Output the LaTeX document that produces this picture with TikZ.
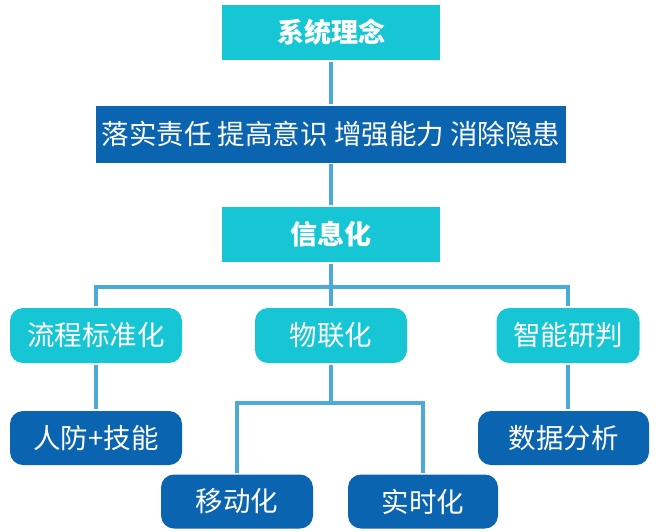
\documentclass[tikz,border=0pt]{standalone}
\usepackage{fontspec}
\setmainfont{Noto Sans CJK SC}
\usepackage{tikz}
\usetikzlibrary{positioning}
\definecolor{cyanbox}{RGB}{22,198,212}
\definecolor{bluebox}{RGB}{10,100,176}
\definecolor{linkline}{RGB}{75,170,216}

\begin{document}
\begin{tikzpicture}[x=1pt, y=-1pt, line width=3.5pt, draw=linkline,
    head/.style={fill=cyanbox, text=white, font=\fontsize{27}{27}\selectfont\bfseries, minimum width=218pt, minimum height=55pt, inner sep=0pt},
    banner/.style={fill=bluebox, text=white, font=\fontsize{27.5}{27.5}\selectfont, minimum width=470pt, minimum height=57pt, inner sep=0pt},
    branch/.style={fill=cyanbox, text=white, font=\fontsize{27.5}{27.5}\selectfont, rounded corners=13pt, minimum height=55pt, inner sep=0pt},
    leaf/.style={fill=bluebox, text=white, font=\fontsize{27.5}{27.5}\selectfont, rounded corners=13pt, minimum height=54pt, inner sep=0pt}]
    	\useasboundingbox (0,0) rectangle (658,531);
    	\node[head] (idea) at (331,32.5) {系统理念};
    	\node[banner] (duty) at (331,134) {落实责任 提高意识 增强能力 消除隐患};
    	\node[head] (info) at (331,234.5) {信息化};
    	\node[branch, minimum width=172pt] (flow) at (96,335.5) {流程标准化};
    	\node[branch, minimum width=152pt] (iot) at (331,335.5) {物联化};
    	\node[branch, minimum width=143pt] (smart) at (568,335.5) {智能研判};
    	\node[leaf, minimum width=172pt] (guard) at (96,438) {人防+技能};
    	\node[leaf, minimum width=171pt] (data) at (563.5,438) {数据分析};
    	\node[leaf, minimum width=152pt] (mobile) at (237,501.5) {移动化};
    	\node[leaf, minimum width=150pt] (live) at (423,501.5) {实时化};
    	\coordinate (split) at (331,287);
    	\coordinate (fork) at (331,403);
    	\draw (idea) -- (duty);
    	\draw (duty) -- (info);
    	\draw (info) -- (split);
    	\draw (flow) |- (split) -| (smart);
    	\draw (split) -- (iot);
    	\draw (flow) -- (guard);
    	\draw (smart) -- (smart |- data.north);
    	\draw (iot) -- (fork);
    	\draw (mobile) |- (fork) -| (live);
    \end{tikzpicture}
\end{document}
